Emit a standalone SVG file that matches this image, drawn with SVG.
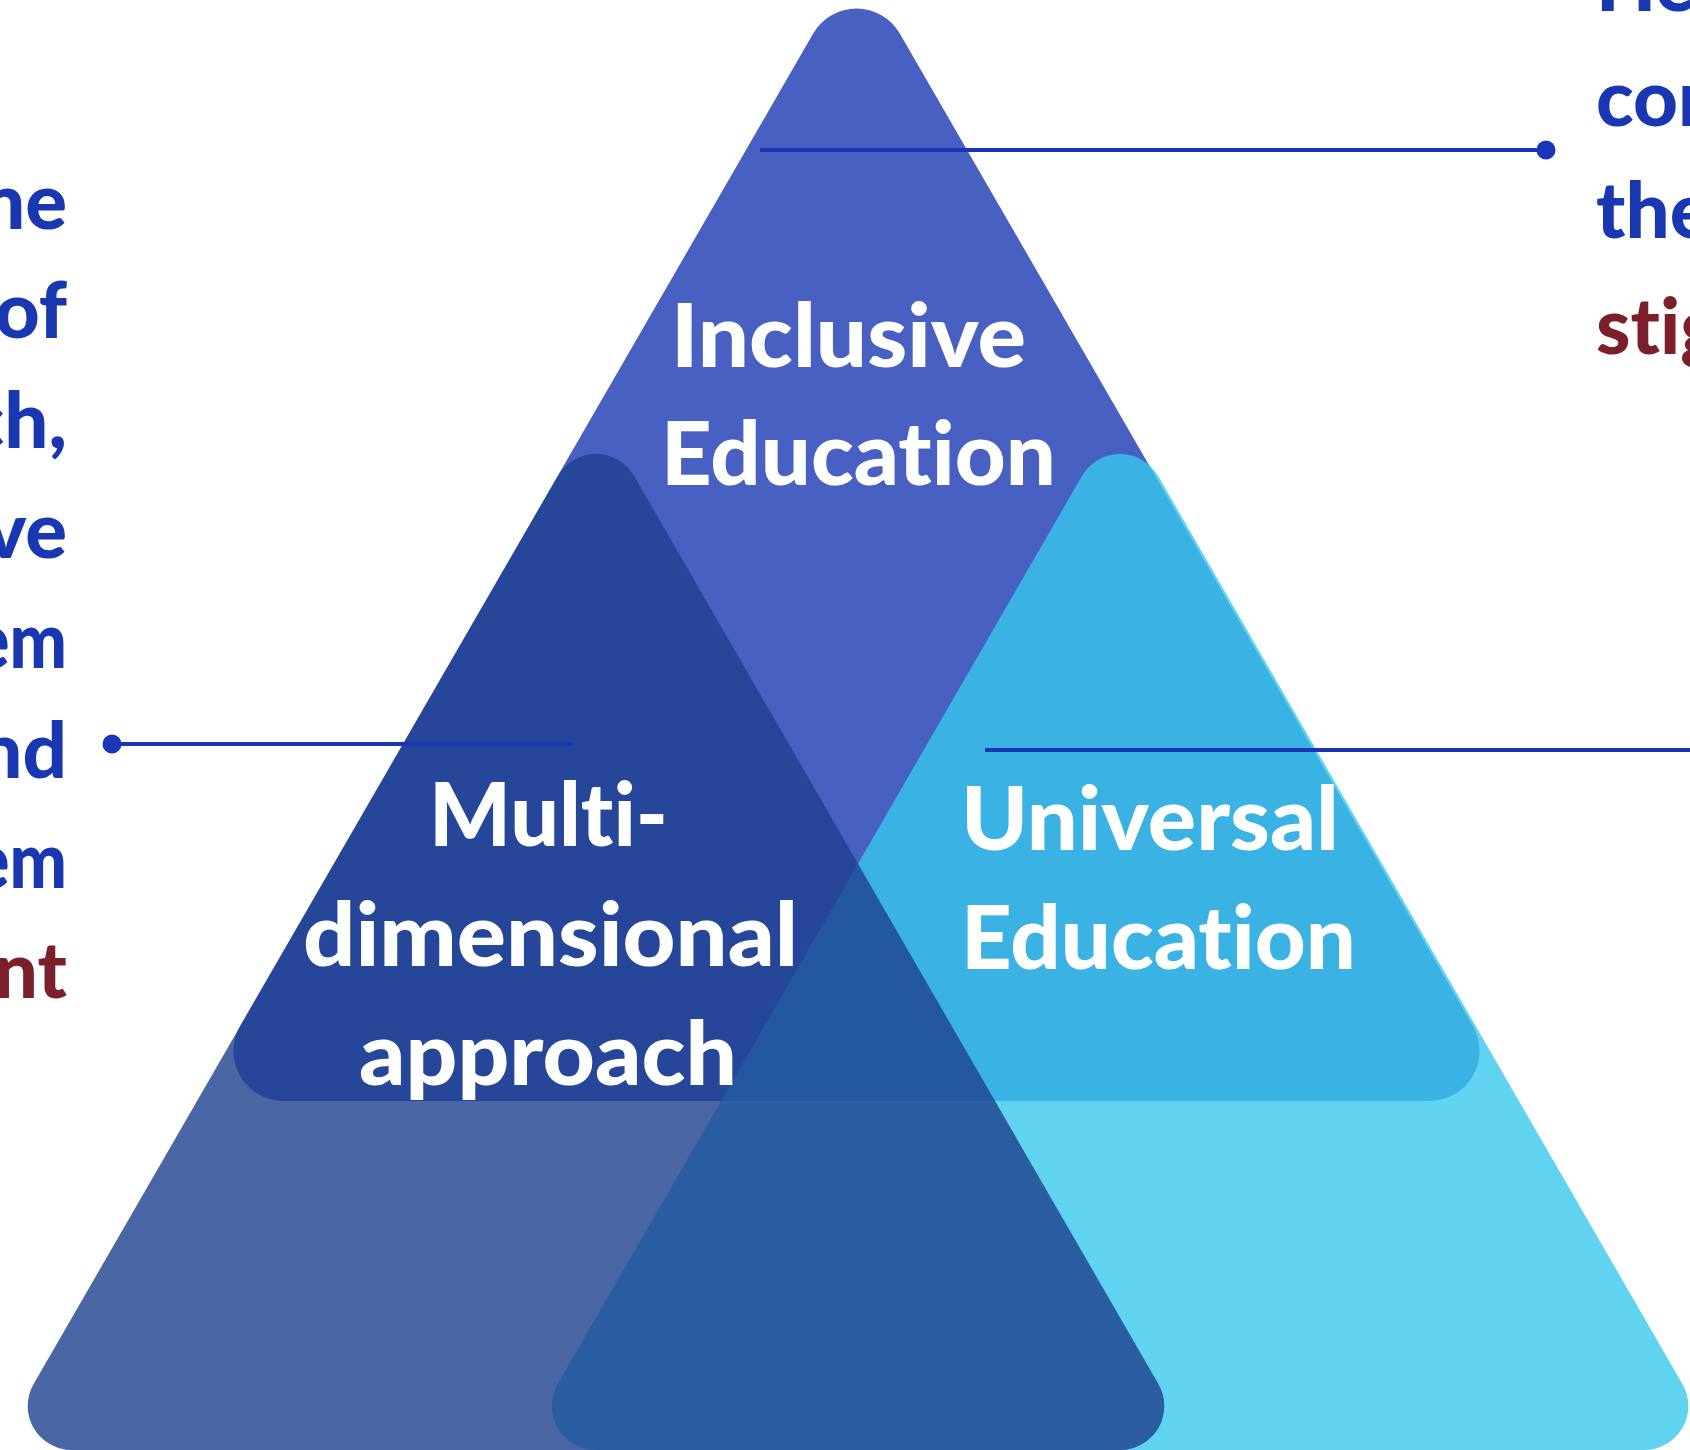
<svg xmlns="http://www.w3.org/2000/svg" width="1690" height="1450" viewBox="0 0 1690 1450">
<style>
.lbl{font-family:Lato,"Noto Sans","Liberation Sans",sans-serif;font-weight:900;font-size:88px;fill:#ffffff;font-variant-ligatures:none;font-feature-settings:"liga" 0,"clig" 0}
.side{font-family:Lato,"Noto Sans","Liberation Sans",sans-serif;font-weight:900;font-size:78px;fill:#1a37b2;font-variant-ligatures:none;font-feature-settings:"liga" 0,"clig" 0}
.red{fill:#7b1f2a}
.conn{stroke:#1a35b5;stroke-width:4;fill:none}
.dot{fill:#1a35b5}
</style>
<rect width="1690" height="1450" fill="#ffffff"/>
<g id="inclusive-education">
<path d="M813.2 33.5 A50 50 0 0 1 899.8 33.5 L1472.9 1026 A50 50 0 0 1 1429.6 1101 L283.4 1101 A50 50 0 0 1 240.1 1026 Z" fill="#4760c2"/>
</g>
<g id="universal-education">
<path d="M1081.9 476 A44 44 0 0 1 1158.1 476 L1682.4 1384 A44 44 0 0 1 1644.3 1450 L595.7 1450 A44 44 0 0 1 557.6 1384 Z" fill="#37c8ec" fill-opacity="0.8"/>
</g>
<g id="multi-dimensional-approach">
<path d="M557.9 476 A44 44 0 0 1 634.1 476 L1158.4 1384 A44 44 0 0 1 1120.3 1450 L71.7 1450 A44 44 0 0 1 33.6 1384 Z" fill="#1e408e" fill-opacity="0.8"/>
</g>
<g id="labels">
<text class="lbl" x="671" y="367" textLength="355" lengthAdjust="spacingAndGlyphs">Inclusive</text>
<text class="lbl" x="661" y="485" textLength="395" lengthAdjust="spacingAndGlyphs">Education</text>
<text class="lbl" x="429" y="846" textLength="239" lengthAdjust="spacingAndGlyphs">Multi-</text>
<text class="lbl" x="303" y="966" textLength="495" lengthAdjust="spacingAndGlyphs">dimensional</text>
<text class="lbl" x="359" y="1085" textLength="378" lengthAdjust="spacingAndGlyphs">approach</text>
<text class="lbl" x="961" y="850" textLength="378" lengthAdjust="spacingAndGlyphs">Universal</text>
<text class="lbl" x="961" y="969" textLength="395" lengthAdjust="spacingAndGlyphs">Education</text>
</g>
<g id="connectors">
<line class="conn" x1="112" y1="744" x2="572" y2="744"/>
<circle class="dot" cx="112" cy="744" r="9.5"/>
<line class="conn" x1="760" y1="150" x2="1546" y2="150"/>
<circle class="dot" cx="1546" cy="150" r="9.5"/>
<line class="conn" x1="985" y1="750" x2="1690" y2="750"/>
</g>
<g id="left-text" text-anchor="end">
<text class="side" x="67" y="229">me</text>
<text class="side" x="67" y="338">of</text>
<text class="side" x="67" y="448">ch,</text>
<text class="side" x="67" y="558">ve</text>
<text class="side" x="67" y="668" textLength="94" lengthAdjust="spacingAndGlyphs">em</text>
<text class="side" x="67" y="778">nd</text>
<text class="side" x="67" y="888" textLength="94" lengthAdjust="spacingAndGlyphs">em</text>
<text class="side red" x="67" y="998">nt</text>
</g>
<g id="right-text">
<text class="side" x="1596" y="11">He</text>
<text class="side" x="1596" y="126">con</text>
<text class="side" x="1596" y="238">the</text>
<text class="side red" x="1596" y="354">stig</text>
</g>
</svg>
